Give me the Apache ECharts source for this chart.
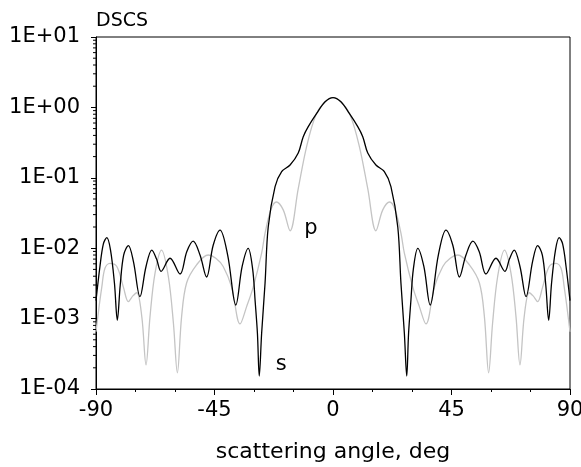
<!DOCTYPE html>
<html>
<head>
<meta charset="utf-8">
<script src="https://cdn.jsdelivr.net/npm/echarts@6/dist/echarts.min.js"></script>
<style>
html,body{margin:0;padding:0;background:#fff;}
#chart{width:581px;height:467px;}
</style>
</head>
<body>
<div id="chart"></div>
<script>
// s-polarization (black)
const sAngles = [-90,-88.5,-87.2,-85.9,-84.5,-83,-81.9,-80.8,-79.5,-77.7,-75.8,-73.3,-71,-68.8,-67,-65.3,-61.9,-58.1,-55.5,-53.1,-50.5,-48,-45.5,-42.9,-40,-36.9,-34.5,-32.2,-30.5,-29.6,-28.7,-28,-27.1,-25.8,-24.6,-22,-19.5,-16.3,-13.2,-11.3,-9.4,-6.2,-3,0,
  3,6.2,9.4,11.3,13.2,16.3,19.5,22,24.6,25.8,27.1,28,28.7,29.6,30.5,32.2,34.5,36.9,40,42.9,45.5,48,50.5,53.1,55.5,58.1,61.9,65.3,67,68.8,71,73.3,75.8,77.7,79.5,80.8,81.9,83,84.5,85.9,87.2,88.5,90];
const sValues = [1.8e-3,5.5e-3,0.0115,0.0141,0.0095,3.2e-3,9.5e-4,3.0e-3,8.0e-3,0.0109,6.5e-3,2.05e-3,5.5e-3,9.4e-3,7e-3,4.7e-3,7.2e-3,4.3e-3,9e-3,0.0126,8e-3,3.9e-3,0.011,0.0181,8e-3,1.56e-3,5.5e-3,0.00997,5e-3,1.84e-3,6.2e-4,1.53e-4,6.2e-4,3.2e-3,0.02,0.075,0.122,0.152,0.225,0.384,0.532,0.82,1.2,1.38,
  1.2,0.82,0.532,0.384,0.225,0.152,0.122,0.075,0.02,3.2e-3,6.2e-4,1.53e-4,6.2e-4,1.84e-3,5e-3,0.00997,5.5e-3,1.56e-3,8e-3,0.0181,0.011,3.9e-3,8e-3,0.0126,9e-3,4.3e-3,7.2e-3,4.7e-3,7e-3,9.4e-3,5.5e-3,2.05e-3,6.5e-3,0.0109,8.0e-3,3.0e-3,9.5e-4,3.2e-3,0.0095,0.0141,0.0115,5.5e-3,1.8e-3];

// p-polarization (gray)
const pAngles = [-90,-88.8,-87.8,-86.6,-84.7,-82.1,-79.6,-77.7,-76,-74.5,-72.6,-71,-69.5,-67.6,-65.1,-62.5,-60.6,-59.1,-57.5,-55.6,-51.8,-47.4,-44.5,-41.7,-38.5,-35.3,-32.8,-30.3,-27.1,-25.8,-23.5,-21.5,-18.9,-16.3,-13.2,-10,-6.5,-3,0,
  3,6.5,10,13.2,16.3,18.9,21.5,23.5,25.8,27.1,30.3,32.8,35.3,38.5,41.7,44.5,47.4,51.8,55.6,57.5,59.1,60.6,62.5,65.1,67.6,69.5,71,72.6,74.5,76,77.7,79.6,82.1,84.7,86.6,87.8,88.8,90];
const pValues = [6.5e-4,1.5e-3,2.8e-3,5.2e-3,6.1e-3,5.5e-3,2.8e-3,1.74e-3,2.1e-3,2.33e-3,1.06e-3,2.2e-4,1.06e-3,4.4e-3,9.4e-3,3.9e-3,8.6e-4,1.7e-4,1.06e-3,3.2e-3,5.8e-3,8.0e-3,7.2e-3,5.5e-3,2.8e-3,8.4e-4,1.48e-3,2.8e-3,8.5e-3,0.0164,0.036,0.0453,0.035,0.0177,0.07,0.28,0.78,1.2,1.38,
  1.2,0.78,0.28,0.07,0.0177,0.035,0.0453,0.036,0.0164,8.5e-3,2.8e-3,1.48e-3,8.4e-4,2.8e-3,5.5e-3,7.2e-3,8.0e-3,5.8e-3,3.2e-3,1.06e-3,1.7e-4,8.6e-4,3.9e-3,9.4e-3,4.4e-3,1.06e-3,2.2e-4,1.06e-3,2.33e-3,2.1e-3,1.74e-3,2.8e-3,5.5e-3,6.1e-3,5.2e-3,2.8e-3,1.5e-3,6.5e-4];

const yTickValues = [1e-4,1e-3,1e-2,1e-1,1,10];
const yTickLabels = ['1E-04','1E-03','1E-02','1E-01','1E+00','1E+01'];
const yMinorTicks = [];
[1e-4,1e-3,1e-2,1e-1,1].forEach(d => { for (let k = 2; k <= 9; k++) yMinorTicks.push(d * k); });
const xMin = -90, xMax = 90, xInterval = 45;

// annotations: [label, angle, value]
const annotationLabels = ['p', 's'];
const annotationAngles = [-8.4, -19.7];
const annotationValues = [0.0188, 2.26e-4];

const FONT = 'DejaVu Sans, Liberation Sans, Arial, sans-serif';
const chart = echarts.init(document.getElementById('chart'), null, {renderer: 'canvas'});
const pair = (xs, ys) => xs.map((x, i) => [x, ys[i]]);

chart.setOption({
  animation: false,
  backgroundColor: '#fff',
  title: {
    text: 'DSCS', left: 96, top: 12, padding: 0,
    textStyle: {fontFamily: FONT, fontSize: 19, fontWeight: 'normal', color: '#000'}
  },
  grid: {left: 96, right: 11, top: 37, bottom: 78, outerBoundsMode: 'none', containLabel: false,
    show: true, borderColor: '#000', borderWidth: 1, backgroundColor: 'transparent'},
  xAxis: {
    type: 'value', min: xMin, max: xMax, interval: xInterval,
    name: 'scattering angle, deg', nameLocation: 'middle', nameGap: 52,
    nameTextStyle: {fontFamily: FONT, fontSize: 22, color: '#000'},
    axisLine: {onZero: false, lineStyle: {color: '#000', width: 1}},
    axisTick: {show: true, inside: false, length: 6, lineStyle: {color: '#000'}},
    minorTick: {show: true, splitNumber: 3, length: 3, lineStyle: {color: '#000'}},
    splitLine: {show: false},
    axisLabel: {fontFamily: FONT, fontSize: 21, color: '#000', margin: 11, hideOverlap: false}
  },
  yAxis: {
    type: 'log', logBase: 10, min: 1e-4, max: 10,
    axisLine: {show: true, onZero: false, lineStyle: {color: '#000', width: 1}},
    axisTick: {show: true, inside: false, length: 5, lineStyle: {color: '#000'}},
    splitLine: {show: false},
    axisLabel: {
      fontFamily: FONT, fontSize: 21, color: '#000', margin: 16,
      formatter: v => {
        let best = 0;
        yTickValues.forEach((t, i) => { if (Math.abs(Math.log10(t) - Math.log10(v)) < Math.abs(Math.log10(yTickValues[best]) - Math.log10(v))) best = i; });
        return yTickLabels[best];
      }
    }
  },
  series: [
    {
      name: 'p', type: 'line', data: pair(pAngles, pValues), smooth: 0.35,
      showSymbol: false, symbol: 'none',
      lineStyle: {color: '#c4c4c4', width: 1.3}, z: 2
    },
    {
      name: 's', type: 'line', data: pair(sAngles, sValues), smooth: 0.35,
      showSymbol: false, symbol: 'none',
      lineStyle: {color: '#000', width: 1.3}, z: 3
    },
    {
      name: 'labels', type: 'scatter', silent: true, z: 5,
      symbol: 'circle', symbolSize: 1,
      itemStyle: {color: '#ffffff', opacity: 1},
      label: {show: true, position: 'inside', fontFamily: FONT, fontSize: 21, color: '#000', opacity: 1,
        formatter: p => annotationLabels[p.dataIndex]},
      data: pair(annotationAngles, annotationValues)
    },
    {
      type: 'custom', silent: true, clip: false, z: 4,
      data: yMinorTicks.map(v => [xMin, v]),
      renderItem: (params, api) => {
        const p = api.coord([api.value(0), api.value(1)]);
        return {type: 'line', shape: {x1: p[0] - 3, y1: p[1], x2: p[0], y2: p[1]}, style: {stroke: '#000', lineWidth: 1}};
      }
    }
  ]
});
</script>
</body>
</html>
